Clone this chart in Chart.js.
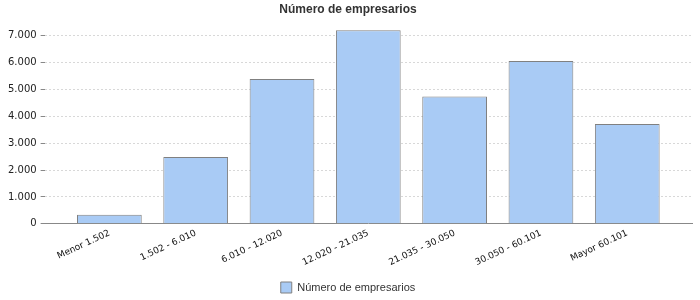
<!DOCTYPE html>
<html>
<head>
<meta charset="utf-8">
<script src="https://cdn.jsdelivr.net/npm/chart.js@4"></script>
<style>
  body { margin: 0; background: #fff; }
  #wrap { width: 700px; height: 300px; }
</style>
</head>
<body>
<div id="wrap"><canvas id="grafico"></canvas></div>
<script>
// datos
const categorias = ['Menor 1.502', '1.502 - 6.010', '6.010 - 12.020', '12.020 - 21.035', '21.035 - 30.050', '30.050 - 60.101', 'Mayor 60.101'];
const empresarios = [335, 2490, 5390, 7210, 4745, 6060, 3715];
const yTicks = [0, 1000, 2000, 3000, 4000, 5000, 6000, 7000];

function fmt(v) {
    return String(v).replace(/\B(?=(\d{3})+(?!\d))/g, '.');
}

Chart.defaults.font.family = '"DejaVu Sans", sans-serif';
Chart.defaults.color = '#222';

new Chart(document.getElementById('grafico'), {
    type: 'bar',
    data: {
        datasets: [{
            label: 'Número de empresarios',
            data: empresarios.map((v, i) => ({x: i, y: v})),
            backgroundColor: '#a9cbf5',
            borderColor: '#808080',
            borderWidth: 1,
            categoryPercentage: 1,
            barPercentage: 0.75
        }]
    },
    options: {
        responsive: true,
        maintainAspectRatio: false,
        animation: false,
        layout: { padding: { left: 4, right: 8, top: 1, bottom: -3 } },
        plugins: {
            title: {
                display: true,
                text: 'Número de empresarios',
                color: '#333',
                font: { family: '"Liberation Sans", Arial, sans-serif', size: 12, weight: 'bold' },
                padding: { top: 1, bottom: 6 }
            },
            legend: {
                position: 'bottom',
                labels: {
                    boxWidth: 11,
                    boxHeight: 11,
                    color: '#333',
                    font: { family: '"Liberation Sans", Arial, sans-serif', size: 11 },
                    padding: 3
                }
            },
            tooltip: { enabled: false }
        },
        scales: {
            x: {
                type: 'linear',
                offset: false,
                min: -0.75,
                max: categorias.length - 0.25,
                afterBuildTicks: axis => { axis.ticks = categorias.map((c, i) => ({value: i})); },
                afterFit: axis => { axis.height += 7; },
                ticks: {
                    autoSkip: false,
                    minRotation: 25,
                    maxRotation: 25,
                    font: { size: 9 },
                    color: '#111',
                    padding: 4,
                    callback: v => categorias[v]
                },
                grid: { display: false, drawTicks: false },
                border: { display: true, color: '#888' }
            },
            y: {
                min: 0,
                max: 7500,
                afterBuildTicks: axis => { axis.ticks = yTicks.map(v => ({value: v})); },
                ticks: {
                    font: { size: 10 },
                    color: '#222',
                    padding: 4,
                    callback: v => fmt(v)
                },
                grid: {
                    color: '#d8d8d8',
                    tickColor: '#888',
                    tickLength: 4,
                    drawTicks: true
                },
                border: { display: false, dash: [2, 2] }
            }
        }
    }
});
</script>
</body>
</html>
